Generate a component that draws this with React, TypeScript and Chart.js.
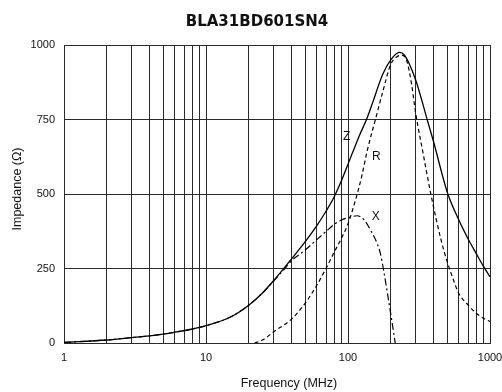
import React, { useEffect, useRef } from 'react';
import { Chart, registerables } from 'chart.js';

Chart.register(...registerables);

const TITLE = 'BLA31BD601SN4';
const X_TITLE = 'Frequency (MHz)';
const Y_TITLE = 'Impedance (Ω)';

const X_LABELLED_TICKS = [1, 10, 100, 1000];
const X_GRID_TICKS = [1, 2, 3, 4, 5, 6, 7, 8, 9, 10, 20, 30, 40, 50, 60, 70, 80, 90, 100, 200, 300, 400, 500, 600, 700, 800, 900, 1000];
const Y_TICKS = [0, 250, 500, 750, 1000];

// Z (|Z|, solid)
const Z_FREQ = [1, 2, 3, 4, 5, 6, 8, 10, 15, 20, 25, 30, 35, 40, 50, 60, 70, 80, 90, 100, 120, 135, 150, 175, 200, 230, 250, 300, 360, 400, 500, 600, 700, 800, 900, 1000];
const Z_VAL = [2, 10, 18, 24, 30, 36, 47, 58, 88, 127, 168, 210, 248, 282, 340, 392, 442, 491, 545, 600, 695, 750, 810, 900, 950, 975, 966, 882, 752, 676, 506, 415, 350, 300, 257, 222];

// R (dashed)
const R_FREQ = [22, 25, 30, 40, 50, 60, 70, 80, 90, 100, 113, 125, 137, 156, 175, 200, 220, 240, 260, 280, 300, 340, 383, 450, 500, 550, 600, 700, 800, 900, 1000];
const R_VAL = [0, 10, 38, 80, 134, 192, 250, 305, 352, 400, 480, 560, 648, 750, 840, 935, 960, 966, 945, 870, 770, 630, 500, 350, 272, 215, 168, 128, 100, 83, 72];

// X (dash-dot)
const X_FREQ = [1, 2, 3, 4, 5, 6, 8, 10, 15, 20, 25, 30, 35, 40, 50, 60, 70, 80, 90, 100, 116, 130, 144, 160, 169, 178, 193, 205, 215];
const X_VAL = [2, 10, 18, 24, 30, 36, 47, 58, 88, 127, 168, 208, 244, 276, 312, 346, 374, 398, 413, 420, 427, 413, 379, 335, 301, 245, 144, 65, 0];

// curve name labels (placed in data coordinates)
const CURVE_NAMES = ['Z', 'R', 'X'];
const CURVE_NAME_FREQ = [98, 158, 157];
const CURVE_NAME_VAL = [692, 625, 424];

const pts = (xs: number[], ys: number[]) => xs.map((x, i) => ({ x, y: ys[i] }));

const textPlugin = {
  id: 'customTexts',
  afterDraw(chart: any) {
    const { ctx, scales } = chart;
    ctx.save();
    ctx.fillStyle = '#111';
    // main title
    ctx.font = 'bold 15px "DejaVu Sans"';
    ctx.textAlign = 'center';
    ctx.textBaseline = 'alphabetic';
    ctx.fillText(TITLE, 257, 26);
    // x axis title
    ctx.font = '12.5px "Liberation Sans"';
    ctx.fillText(X_TITLE, 289, 387);
    // y axis title
    ctx.save();
    ctx.translate(21, 189);
    ctx.rotate(-Math.PI / 2);
    ctx.fillText(Y_TITLE, 0, 0);
    ctx.restore();
    // curve labels
    ctx.font = '12px "Liberation Sans"';
    ctx.textBaseline = 'middle';
    CURVE_NAMES.forEach((n, i) => {
      const px = scales.x.getPixelForValue(CURVE_NAME_FREQ[i]);
      const py = scales.y.getPixelForValue(CURVE_NAME_VAL[i]);
      ctx.fillText(n, px, py);
    });
    ctx.restore();
  },
};

export default function App() {
  const ref = useRef<HTMLCanvasElement | null>(null);
  useEffect(() => {
    if (!ref.current) return;
    const gridColor = '#2a2a2a';
    const chart = new Chart(ref.current, {
      type: 'line',
      data: {
        datasets: [
          {
            label: 'Z',
            data: pts(Z_FREQ, Z_VAL),
            borderColor: '#000',
            borderWidth: 1.3,
            pointRadius: 0,
            cubicInterpolationMode: 'monotone',
            fill: false,
          },
          {
            label: 'R',
            data: pts(R_FREQ, R_VAL),
            borderColor: '#000',
            borderWidth: 1.2,
            borderDash: [4, 3],
            pointRadius: 0,
            cubicInterpolationMode: 'monotone',
            fill: false,
          },
          {
            label: 'X',
            data: pts(X_FREQ, X_VAL),
            borderColor: '#000',
            borderWidth: 1.2,
            borderDash: [7, 3, 2, 3],
            pointRadius: 0,
            cubicInterpolationMode: 'monotone',
            fill: false,
          },
        ],
      },
      options: {
        responsive: false,
        animation: false,
        devicePixelRatio: 1,
        layout: { padding: { top: 45, right: 12, bottom: 0, left: 0 } },
        plugins: {
          legend: { display: false },
          title: { display: false },
          tooltip: { enabled: false },
        },
        scales: {
          x: {
            type: 'logarithmic',
            min: 1,
            max: 1000,
            afterBuildTicks: (scale: any) => {
              scale.ticks = X_GRID_TICKS.map((v) => ({ value: v }));
            },
            afterFit: (scale: any) => {
              scale.height = 49;
              scale.paddingLeft = 0;
              scale.paddingRight = 0;
            },
            ticks: {
              autoSkip: false,
              maxRotation: 0,
              padding: 8,
              color: '#111',
              font: { family: '"Liberation Sans"', size: 11 },
              callback: (v: any) => (X_LABELLED_TICKS.includes(Number(v)) ? String(v) : ''),
            },
            grid: { color: gridColor, lineWidth: 1, drawTicks: false },
            border: { display: true, color: gridColor, width: 1 },
          },
          y: {
            type: 'linear',
            min: 0,
            max: 1000,
            afterBuildTicks: (scale: any) => {
              scale.ticks = Y_TICKS.map((v) => ({ value: v }));
            },
            afterFit: (scale: any) => {
              scale.width = 64;
              scale.paddingTop = 0;
              scale.paddingBottom = 0;
            },
            ticks: {
              padding: 9,
              color: '#111',
              font: { family: '"Liberation Sans"', size: 11 },
              callback: (v: any) => String(v),
            },
            grid: { color: gridColor, lineWidth: 1, drawTicks: false },
            border: { display: true, color: gridColor, width: 1 },
          },
        },
      },
      plugins: [textPlugin],
    } as any);
    return () => chart.destroy();
  }, []);
  return (
    <div style={{ position: 'absolute', left: 0, top: 0, width: 502, height: 392, background: '#fff' }}>
      <canvas ref={ref} width={502} height={392} style={{ display: 'block' }} />
    </div>
  );
}
